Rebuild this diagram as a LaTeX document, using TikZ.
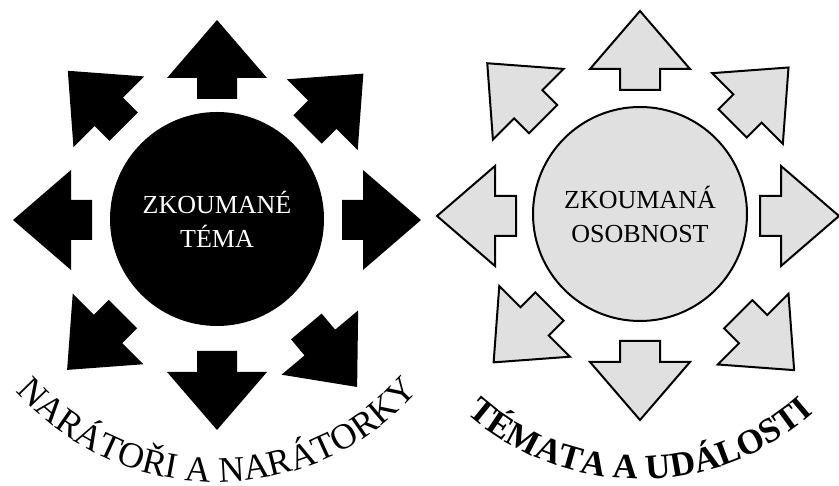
\documentclass[tikz,border=0pt]{standalone}
\usepackage{fontspec}
\setmainfont{Liberation Serif}
\usetikzlibrary{decorations.text}
\definecolor{lightfill}{HTML}{E0E0E0}

\begin{document}
\begin{tikzpicture}[x=1pt, y=1pt,
    hub/.style={circle, minimum size=214pt, inner sep=0pt, align=center,
                font={\fontsize{26}{34}\selectfont}},
    hubdark/.style={hub, fill=black, text=white},
    hublight/.style={hub, fill=lightfill, draw=black, line width=2pt},
    arrdark/.style={fill=black},
    arrlight/.style={fill=lightfill, draw=black, line width=2pt}
  ]
  \useasboundingbox (0,0) rectangle (839,486);

  \coordinate (cL) at (217,266);
  \coordinate (cR) at (640,270);

  % left: black hub and arrows
  \foreach \ang/\off in {0/0, 45/3, 90/-4, 135/7, 180/0, 225/8, 270/6, 310/14}
    \fill[arrdark, shift={(cL)}, rotate=\ang]
      ({125+\off},-20) -- ({146+\off},-20) -- ({146+\off},-50) -- ({204+\off},0)
      -- ({146+\off},50) -- ({146+\off},20) -- ({125+\off},20) -- cycle;
  \node[hubdark] (temaL) at (217,267) {ZKOUMANÉ\\TÉMA};

  % right: grey hub and arrows
  \foreach \ang/\off in {0/-5, 45/6, 90/1, 135/12, 180/-1, 225/3, 270/0, 315/14}
    \filldraw[arrlight, shift={(cR)}, rotate=\ang]
      ({125+\off},-20) -- ({146+\off},-20) -- ({146+\off},-50) -- ({204+\off},0)
      -- ({146+\off},50) -- ({146+\off},20) -- ({125+\off},20) -- cycle;
  \node[hublight] (osobR) at (640,272) {ZKOUMANÁ\\OSOBNOST};

  % curved captions
  \coordinate (tL) at (217,273);
  \coordinate (tR) at (640,268);
  \path[decorate, decoration={text along path, text align=center,
        text={|\fontsize{36}{36}\selectfont|NARÁTOŘI A NARÁTORKY}}]
    (tL) ++(200:269) arc[start angle=200, end angle=340, radius=269];
  \path[decorate, decoration={text along path, text align=center,
        text={|\fontsize{35}{35}\selectfont\bfseries|TÉMATA A UDÁLOSTI}}]
    (tR) ++(200:261) arc[start angle=200, end angle=340, radius=261];
\end{tikzpicture}
\end{document}
